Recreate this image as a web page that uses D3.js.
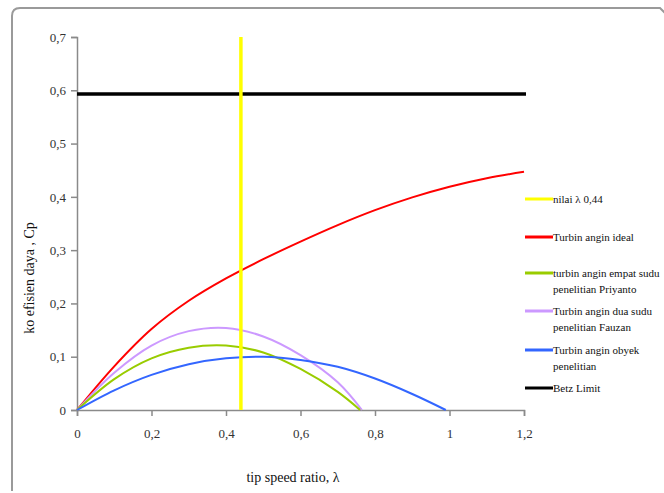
<!DOCTYPE html>
<html>
<head>
<meta charset="utf-8">
<script src="https://cdn.jsdelivr.net/npm/d3@7"></script>
<style>
  body { margin: 0; background: #fff; }
  svg { display: block; }
  text { font-family: 'Liberation Serif', 'DejaVu Serif', serif; }
</style>
</head>
<body>
<div id="chart"></div>
<script>
// data
const idealX = [0, 0.1, 0.2, 0.3, 0.4, 0.5, 0.6, 0.7, 0.8, 0.9, 1.0, 1.1, 1.2];
const idealY = [0, 0.082, 0.152, 0.205, 0.247, 0.283, 0.316, 0.347, 0.375, 0.399, 0.419, 0.435, 0.447];

const empatX = [0, 0.1, 0.2, 0.3, 0.4, 0.5, 0.6, 0.7, 0.76];
const empatY = [0, 0.058, 0.097, 0.117, 0.121, 0.108, 0.077, 0.034, 0];

const duaX = [0, 0.1, 0.2, 0.3, 0.4, 0.5, 0.6, 0.7, 0.765];
const duaY = [0, 0.07, 0.121, 0.148, 0.154, 0.138, 0.103, 0.052, 0];

const obyekX = [0, 0.1, 0.2, 0.3, 0.4, 0.5, 0.6, 0.7, 0.8, 0.9, 0.99];
const obyekY = [0, 0.037, 0.066, 0.086, 0.097, 0.1, 0.094, 0.081, 0.059, 0.03, 0];

const betz = 0.593;
const nilaiLambda = 0.44;

const xTicks = [0, 0.2, 0.4, 0.6, 0.8, 1, 1.2];
const yTicks = [0, 0.1, 0.2, 0.3, 0.4, 0.5, 0.6, 0.7];

const legendItems = [
  { lines: ["nilai λ 0,44"], color: "#ffff00" },
  { lines: ["Turbin angin ideal"], color: "#ff0000" },
  { lines: ["turbin angin empat sudu", "penelitian Priyanto"], color: "#99cc00" },
  { lines: ["Turbin angin dua sudu", "penelitian Fauzan"], color: "#cc99ff" },
  { lines: ["Turbin angin obyek", "penelitian"], color: "#3366ff" },
  { lines: ["Betz Limit"], color: "#000000" }
];

const W = 664, H = 493;
const fmt = v => String(+v.toFixed(1)).replace(".", ",");

const svg = d3.select("#chart").append("svg")
  .attr("width", W).attr("height", H);

// frame round the chart
svg.append("path")
  .attr("d", "M12,491 L12,16 Q12,8 20,8 L660,8 L666,14")
  .attr("fill", "none")
  .attr("stroke", "#9a9a9a")
  .attr("stroke-width", 2);

const x = d3.scaleLinear().domain([0, 1.2]).range([77, 524]);
const y = d3.scaleLinear().domain([0, 0.7]).range([410, 37]);

// axes
const xAxis = svg.append("g")
  .attr("transform", `translate(0,${y(0)})`)
  .call(d3.axisBottom(x).tickValues(xTicks).tickSize(6).tickPadding(13)
    .tickFormat(d => d === 0 ? "0" : fmt(d)));
const yAxis = svg.append("g")
  .attr("transform", `translate(${x(0)},0)`)
  .call(d3.axisLeft(y).tickValues(yTicks).tickSize(6).tickPadding(5)
    .tickFormat(d => d === 0 ? "0" : fmt(d)));

[xAxis, yAxis].forEach(a => {
  a.select(".domain").attr("stroke", "#8a8a8a").attr("stroke-width", 1.5);
  a.selectAll(".tick line").attr("stroke", "#8a8a8a").attr("stroke-width", 1.5);
  a.selectAll("text").attr("fill", "#333").style("font-size", "13px")
    .style("font-family", "'Liberation Serif', serif");
});

// curves
const line = d3.line().x(d => x(d[0])).y(d => y(d[1])).curve(d3.curveCatmullRom.alpha(0.5));
const series = [
  { xs: idealX, ys: idealY, color: "#ff0000" },
  { xs: duaX, ys: duaY, color: "#cc99ff" },
  { xs: empatX, ys: empatY, color: "#99cc00" },
  { xs: obyekX, ys: obyekY, color: "#3366ff" }
];
series.forEach(s => {
  svg.append("path")
    .datum(s.xs.map((v, i) => [v, s.ys[i]]))
    .attr("fill", "none")
    .attr("stroke", s.color)
    .attr("stroke-width", 2)
    .attr("d", line);
});

// Betz limit
svg.append("line")
  .attr("x1", x(0)).attr("x2", x(1.2) + 2)
  .attr("y1", y(betz)).attr("y2", y(betz))
  .attr("stroke", "#000").attr("stroke-width", 3.5);

// nilai lambda
svg.append("line")
  .attr("x1", x(nilaiLambda)).attr("x2", x(nilaiLambda))
  .attr("y1", y(0.7)).attr("y2", y(0))
  .attr("stroke", "#ffff00").attr("stroke-width", 3.5);

// axis titles
svg.append("text")
  .attr("x", 293).attr("y", 482)
  .attr("text-anchor", "middle")
  .style("font-size", "14px")
  .attr("fill", "#111")
  .text("tip speed ratio, λ");

svg.append("text")
  .attr("transform", "translate(34,278) rotate(-90)")
  .attr("text-anchor", "middle")
  .style("font-size", "14px")
  .attr("fill", "#111")
  .text("ko efisien daya , Cp");

// legend
const legendY = [199, 237, 273, 311, 350, 388];
legendItems.forEach((it, i) => {
  const g = svg.append("g").attr("transform", `translate(525,${legendY[i]})`);
  g.append("line").attr("x1", 0).attr("x2", 28).attr("y1", 0).attr("y2", 0)
    .attr("stroke", it.color).attr("stroke-width", 3);
  it.lines.forEach((t, j) => {
    g.append("text")
      .attr("x", 28).attr("y", 4 + j * 16)
      .style("font-size", "11px")
      .attr("fill", "#111")
      .text(t);
  });
});
</script>
</body>
</html>
